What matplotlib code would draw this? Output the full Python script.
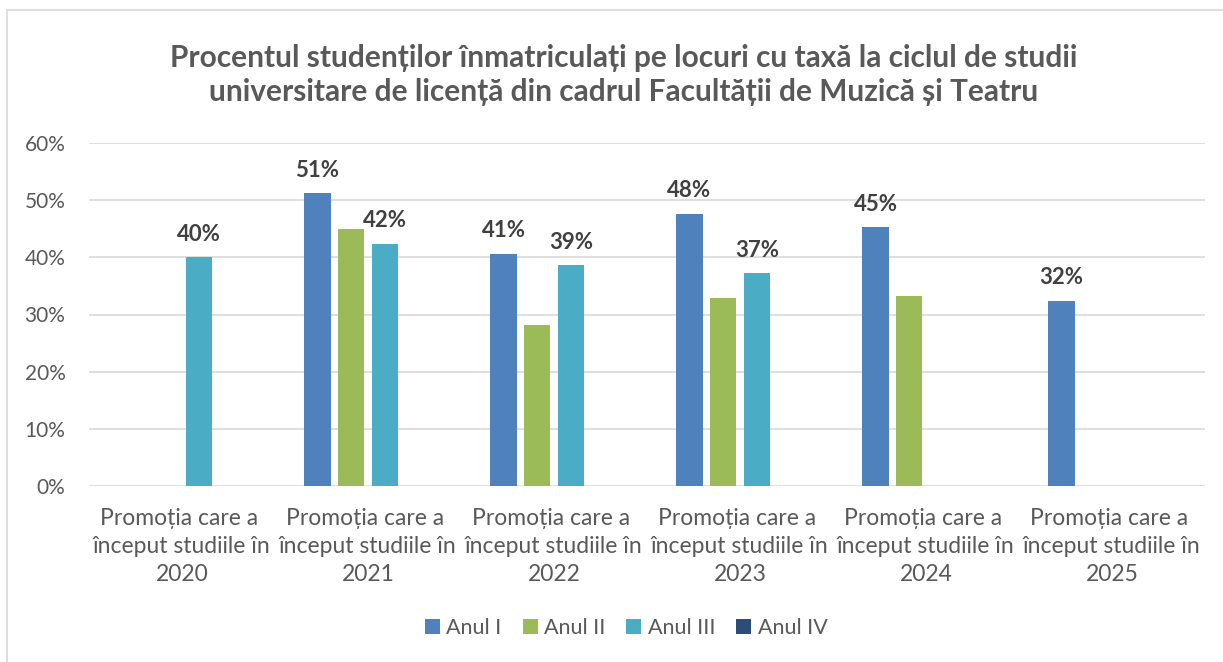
import numpy as np
import matplotlib
matplotlib.use("Agg")
import matplotlib.pyplot as plt
from matplotlib.patches import Rectangle, Patch

plt.rcParams['font.family'] = ['Lato', 'DejaVu Sans']

# date
categorii = ["Promoția care a \nînceput studiile în\n2020",
             "Promoția care a \nînceput studiile în\n2021",
             "Promoția care a \nînceput studiile în\n2022",
             "Promoția care a \nînceput studiile în\n2023",
             "Promoția care a \nînceput studiile în\n2024",
             "Promoția care a \nînceput studiile în\n2025"]
serii = ["Anul I", "Anul II", "Anul III", "Anul IV"]
anul_1 = [np.nan, 51.2, 40.6, 47.6, 45.3, 32.4]
anul_2 = [np.nan, 44.9, 28.2, 32.8, 33.2, np.nan]
anul_3 = [40.0, 42.4, 38.6, 37.2, np.nan, np.nan]
anul_4 = [np.nan, np.nan, np.nan, np.nan, np.nan, np.nan]
# ce bare au eticheta
eticheta_1 = [False, True, True, True, True, True]
eticheta_2 = [False, False, False, False, False, False]
eticheta_3 = [True, True, True, True, False, False]
eticheta_4 = [False] * 6

valori = [anul_1, anul_2, anul_3, anul_4]
etichete = [eticheta_1, eticheta_2, eticheta_3, eticheta_4]
culori = ["#4F81BD", "#9BBB59", "#4BACC6", "#2C4D75"]

fig = plt.figure(figsize=(12.23, 6.62), dpi=100)
ax = fig.add_axes([89 / 1223, 1 - 486 / 662, (1205 - 89) / 1223, (486 - 143) / 662])

x = np.arange(len(categorii))
latime = 0.1414
pas = 0.181

for i, (vals, lbls, col) in enumerate(zip(valori, etichete, culori)):
    pos = x + (i - 1.5) * pas
    ax.bar(pos, vals, width=latime, color=col, linewidth=0, zorder=3)
    for p, v, show in zip(pos, vals, lbls):
        if show and not np.isnan(v):
            ax.annotate(f"{v:.0f}%", (p, v), xytext=(0, 9), textcoords="offset points",
                        ha="center", va="bottom", fontsize=16, fontweight="bold",
                        color="#404040")

ax.set_xlim(-0.5, len(categorii) - 0.5)
ax.set_ylim(0, 60)
ax.set_yticks(np.arange(0, 61, 10))
ax.set_yticklabels([f"{t}%" for t in range(0, 61, 10)])
ax.set_xticks(x)
ax.set_xticklabels(categorii, linespacing=1.4)
ax.tick_params(axis="both", length=0, colors="#595959")
ax.tick_params(axis="y", pad=17, labelsize=15)
ax.tick_params(axis="x", pad=16, labelsize=16.5)
ax.grid(axis="y", color="#D9D9D9", linewidth=1.2, zorder=0)
for s in ax.spines.values():
    s.set_visible(False)

fig.text(0.51, 1 - 75 / 662, "Procentul studenților înmatriculați pe locuri cu taxă la ciclul de studii\n"
         "universitare de licență din cadrul Facultății de Muzică și Teatru",
         ha="center", va="center", fontsize=21.5, fontweight="bold", color="#595959",
         linespacing=1.3)

handles = [Patch(facecolor=c, edgecolor="none") for c in culori]
fig.legend(handles, serii, loc="center", bbox_to_anchor=(0.512, 1 - 628 / 662), ncol=4,
           frameon=False, fontsize=15.5, handlelength=0.7, handleheight=0.7,
           handletextpad=0.3, columnspacing=0.97, labelcolor="#595959")

# chenarul graficului
fig.patches.append(Rectangle((7 / 1223, -0.5), 2, 0.5 + 1 - 10 / 662, transform=fig.transFigure,
                             fill=False, edgecolor="#D9D9D9", linewidth=1.2))

fig.savefig("out.png", dpi=100)
